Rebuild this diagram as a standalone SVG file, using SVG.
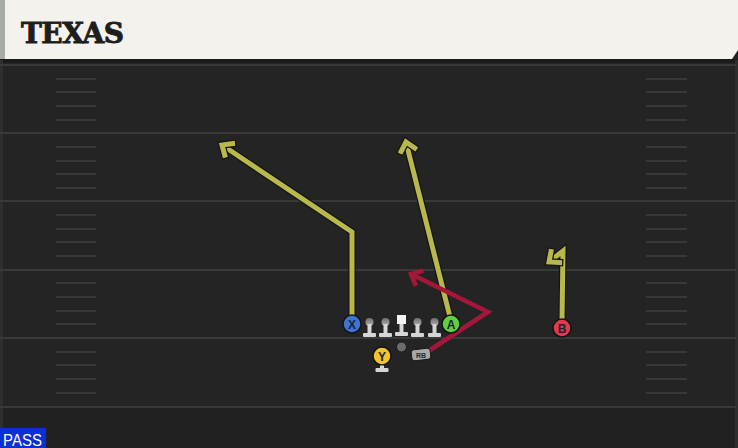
<svg xmlns="http://www.w3.org/2000/svg" width="738" height="448" viewBox="0 0 738 448">
<style>
.yard{stroke:#393939;stroke-width:2}
.hash{stroke:#383838;stroke-width:2}
.outline{fill:none;stroke:#151515;stroke-width:7.5;stroke-linejoin:miter;stroke-linecap:butt}
.ry{fill:none;stroke:#b9b84c;stroke-width:5;stroke-linejoin:miter}
.rr{fill:none;stroke:#a5173a;stroke-width:4.5;stroke-linejoin:miter}
.plr{stroke:#141414;stroke-width:1.5}
.ltr{font-family:"Liberation Sans",Arial,sans-serif;font-weight:bold;font-size:12px;fill:#1a2238;text-anchor:middle}
.body{fill:#d6d6d6}
</style>
<defs>
<marker id="ay" markerUnits="userSpaceOnUse" orient="auto" markerWidth="24" markerHeight="24" refX="0" refY="0" viewBox="-14 -12 18 24" overflow="visible">
<path d="M-8,-7 L0,0 L-8,7" fill="none" stroke="#151515" stroke-width="7.5" stroke-linecap="square"/>
<path d="M-8,-7 L0,0 L-8,7" fill="none" stroke="#b9b84c" stroke-width="5" stroke-linecap="square"/>
</marker>
<marker id="ar" markerUnits="userSpaceOnUse" orient="auto" markerWidth="24" markerHeight="24" refX="0" refY="0" viewBox="-14 -12 18 24" overflow="visible">
<path d="M-8,-7 L0,0 L-8,7" fill="none" stroke="#a5173a" stroke-width="4.5" stroke-linecap="square"/>
</marker>
<linearGradient id="hg" x1="0" y1="0" x2="0" y2="1"><stop offset="0" stop-color="#6e6e6e"/><stop offset="1" stop-color="#b0b0b0"/></linearGradient>
</defs>
<rect x="0" y="0" width="738" height="448" fill="#242424"/>
<rect x="0" y="407" width="738" height="41" fill="#212121"/>
<rect x="0" y="59" width="738" height="4" fill="#1b1b1b"/>
<rect x="0" y="60" width="3" height="388" fill="#2e2e2e"/>
<rect x="735" y="60" width="3" height="388" fill="#2e2e2e"/>
<g id="field">
<line class="yard" x1="0" y1="65" x2="736" y2="65"/>
<line class="yard" x1="0" y1="133" x2="736" y2="133"/>
<line class="yard" x1="0" y1="201" x2="736" y2="201"/>
<line class="yard" x1="0" y1="270" x2="736" y2="270"/>
<line class="yard" x1="0" y1="338" x2="736" y2="338"/>
<line class="yard" x1="0" y1="407" x2="736" y2="407"/>
<g id="hashes">
<path class="hash" d="M56 79H96M56 92H96M56 106H96M56 120H96M56 147H96M56 161H96M56 174H96M56 188H96M56 215H96M56 229H96M56 242H96M56 256H96M56 283H96M56 297H96M56 311H96M56 324H96M56 352H96M56 365H96M56 379H96M56 393H96"/>
<path class="hash" d="M646 79H687M646 92H687M646 106H687M646 120H687M646 147H687M646 161H687M646 174H687M646 188H687M646 215H687M646 229H687M646 242H687M646 256H687M646 283H687M646 297H687M646 311H687M646 324H687M646 352H687M646 365H687M646 379H687M646 393H687"/>
</g>
</g>
<g id="header">
<polygon points="0,0 738,0 738,50 732,59 0,59" fill="#f4f2ec"/>
<rect x="0" y="0" width="5" height="59" fill="#a9aba6"/>
<text x="21" y="43" font-family="DejaVu Serif,serif" font-weight="bold" font-size="28" fill="#1e1e1e" stroke="#1e1e1e" stroke-width="0.9" textLength="103" lengthAdjust="spacing">TEXAS</text>
</g>
<g id="connectors">
<polyline class="outline" points="352,317 352,232 222,145"/>
<polyline class="ry" points="352,317 352,232 222,145" marker-end="url(#ay)"/>
<polyline class="outline" points="450,317 406,142"/>
<polyline class="ry" points="450,317 406,142" marker-end="url(#ay)"/>
<polyline class="outline" points="562,321 563,251 549,262"/>
<polyline class="ry" points="562,321 563,251 549,262" marker-end="url(#ay)"/>
<polyline class="rr" points="427,352 488,312 411,274" marker-end="url(#ar)"/>
</g>
<g id="node-X"><circle class="plr" cx="352" cy="324" r="9" fill="#3d74d6"/><text class="ltr" x="352" y="328.5">X</text></g>
<g id="node-A"><circle class="plr" cx="451" cy="324" r="9" fill="#5ed13c"/><text class="ltr" x="451" y="328.5">A</text></g>
<g id="node-B"><circle class="plr" cx="562" cy="328" r="9" fill="#e23a4a"/><text class="ltr" x="562" y="332.5">B</text></g>
<g id="node-LT"><circle cx="369.5" cy="322" r="4" fill="url(#hg)"/><rect class="body" x="367.5" y="324" width="4" height="9"/><rect class="body" x="363" y="333" width="13" height="4" rx="1"/></g>
<g id="node-LG"><circle cx="385.5" cy="322" r="4" fill="url(#hg)"/><rect class="body" x="383.5" y="324" width="4" height="9"/><rect class="body" x="379" y="333" width="13" height="4" rx="1"/></g>
<g id="node-C"><rect x="397" y="315" width="9" height="9" fill="#f4f4f4"/><rect class="body" x="399.5" y="324" width="4" height="8"/><rect class="body" x="395" y="332" width="13" height="4" rx="1"/></g>
<g id="node-RG"><circle cx="417.5" cy="322" r="4" fill="url(#hg)"/><rect class="body" x="415.5" y="324" width="4" height="9"/><rect class="body" x="411" y="333" width="13" height="4" rx="1"/></g>
<g id="node-RT"><circle cx="434.5" cy="322" r="4" fill="url(#hg)"/><rect class="body" x="432.5" y="324" width="4" height="9"/><rect class="body" x="428" y="333" width="13" height="4" rx="1"/></g>
<g id="node-QB"><circle cx="401.5" cy="347" r="5" fill="#6b6b6b" stroke="#1a1a1a" stroke-width="1"/></g>
<g id="node-Y"><circle class="plr" cx="382" cy="356" r="9" fill="#f0c62c"/><text class="ltr" x="382" y="360.5">Y</text><rect class="body" x="380" y="365.5" width="4" height="3"/><rect class="body" x="375.5" y="368" width="13" height="4" rx="1"/></g>
<g id="node-RB"><rect x="411.5" y="349" width="19" height="11" rx="3" fill="#a8a8a8" stroke="#1a1a1a" stroke-width="1" transform="rotate(-6 421 354.5)"/><text x="421" y="357.5" font-family="Liberation Sans,Arial,sans-serif" font-weight="bold" font-size="7" fill="#2a2a2a" text-anchor="middle">RB</text></g>
<g id="pass-label"><rect x="0" y="428" width="46" height="20" fill="#0b2fd6"/><text x="3" y="446" font-family="Liberation Sans,Arial,sans-serif" font-size="16" fill="#ffffff" textLength="39" lengthAdjust="spacingAndGlyphs">PASS</text></g>
</svg>
